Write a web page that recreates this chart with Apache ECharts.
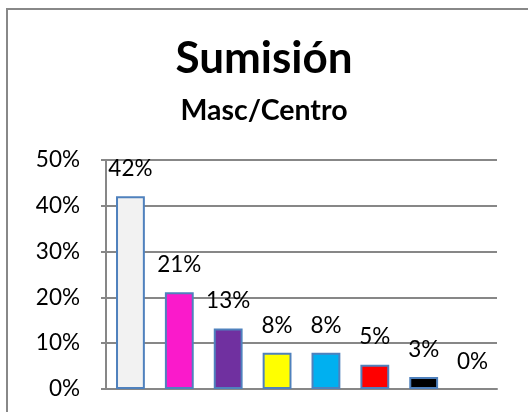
<!DOCTYPE html>
<html>
<head>
<meta charset="utf-8">
<script src="https://cdn.jsdelivr.net/npm/echarts@6/dist/echarts.min.js"></script>
<style>
html, body { margin: 0; padding: 0; background: #fff; }
#c_chart { width: 528px; height: 412px; }
</style>
</head>
<body>
<div id="c_chart"></div>
<script>
// Sumisión - Masc/Centro
var cats = ['a', 'b', 'c', 'd', 'e', 'f', 'g', 'h'];
var vals = [0.421, 0.211, 0.132, 0.079, 0.079, 0.053, 0.026, 0];
var colors = ['#F2F2F2', '#FA1ACB', '#7030A0', '#FFFF00', '#00B0F0', '#FF0000', '#000000', '#FFFFFF'];
var ticks = [0, 0.1, 0.2, 0.3, 0.4, 0.5];

var dm = document.getElementById('c_chart');
var ch = echarts.init(dm);
var fnt = 'Lato, "Open Sans", sans-serif';
var grayLine = '#878787';

var option = {
    backgroundColor: '#fff',
    animation: false,
    title: [
        {
            text: 'Sumisión',
            left: 'center',
            top: 32,
            textStyle: { fontFamily: fnt, fontWeight: 'bold', fontSize: 44, color: '#000' }
        },
        {
            text: 'Masc/Centro',
            left: 'center',
            top: 91,
            textStyle: { fontFamily: fnt, fontWeight: 'bold', fontSize: 28.5, color: '#000' }
        }
    ],
    graphic: [
        {
            type: 'rect',
            shape: { x: 7, y: 9, width: 600, height: 500 },
            style: { fill: 'none', stroke: '#888', lineWidth: 2 },
            silent: true
        }
    ],
    grid: {
        left: 106,
        right: 31,
        top: 160,
        bottom: 23,
        containLabel: false
    },
    xAxis: {
        type: 'category',
        data: cats,
        axisLine: { show: true, lineStyle: { color: grayLine, width: 2 } },
        axisTick: { show: false },
        axisLabel: { show: false },
        splitLine: { show: false }
    },
    yAxis: {
        type: 'value',
        min: ticks[0],
        max: ticks[ticks.length - 1],
        interval: 0.1,
        axisLine: { show: true, lineStyle: { color: grayLine, width: 2 } },
        axisTick: { show: true, length: 5, lineStyle: { color: grayLine, width: 2 } },
        axisLabel: {
            margin: 26,
            fontFamily: fnt,
            fontSize: 22.5,
            color: '#000',
            formatter: function (v) { return Math.round(v * 100) + '%'; }
        },
        splitLine: { show: true, lineStyle: { color: grayLine, width: 2 } }
    },
    series: [
        {
            type: 'bar',
            barWidth: '59%',
            data: vals.map(function (v, i) {
                return {
                    value: v,
                    itemStyle: { color: colors[i], borderColor: '#4F81BD', borderWidth: v > 0 ? 2 : 0 }
                };
            }),
            label: {
                show: true,
                position: 'top',
                distance: 16,
                fontFamily: fnt,
                fontSize: 22.5,
                color: '#000',
                formatter: function (p) { return Math.round(p.value * 100) + '%'; }
            }
        }
    ]
};

ch.setOption(option);
window.onresize = function () {
    ch.resize();
};
</script>
</body>
</html>
